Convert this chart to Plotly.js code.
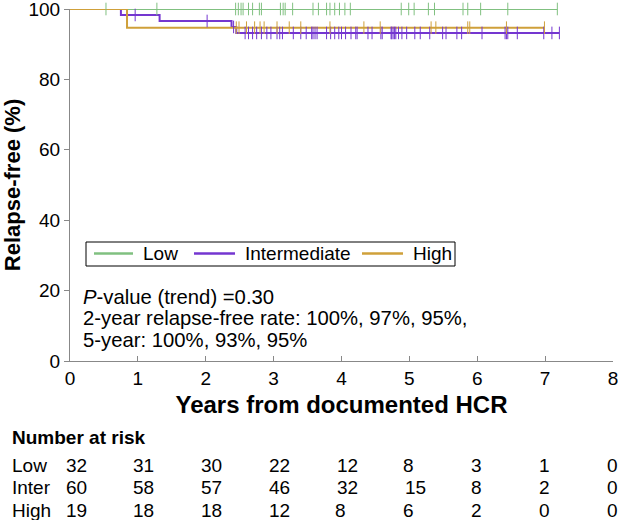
<!DOCTYPE html>
<html>
<head>
<meta charset="utf-8">
<script src="https://cdn.plot.ly/plotly-3.0.1.min.js"></script>
<style>
  html, body { margin: 0; padding: 0; background: #fff; }
  #chart { width: 618px; height: 520px; }
</style>
</head>
<body>
<div id="chart"></div>
<script>
// ---------------- DATA ----------------
const groupNames = ["Low", "Intermediate", "High"];
const riskLabels = ["Low", "Inter", "High"];

// Kaplan–Meier step curves: event times and survival (%) after each event
const lowEventTimes = [];
const lowEventSurv = [];
const lowLastTime = 7.18;
const lowCensor = [0.53, 1.28, 2.44, 2.48, 2.52, 2.55, 2.63, 2.69, 2.79, 2.82,
  3.10, 3.14, 3.17, 3.28, 3.58, 3.66, 3.78, 3.83, 3.90, 3.97,
  4.05, 4.13, 4.88, 4.99, 5.07, 5.28, 5.37, 5.79, 5.86, 6.05, 6.45, 7.18];

const interEventTimes = [0.75, 1.32, 2.38, 2.45];
const interEventSurv = [98.3, 96.6, 94.9, 93.2];
const interLastTime = 7.21;
const interCensor = [0.96, 2.02, 2.41, 2.58, 2.63, 2.69, 2.75, 2.82, 2.90, 2.96,
  3.05, 3.09, 3.13, 3.29, 3.40, 3.48, 3.56, 3.58, 3.61, 3.64, 3.78, 3.84, 3.90, 3.96,
  4.00, 4.06, 4.14, 4.21, 4.23, 4.39, 4.45, 4.58, 4.60, 4.73, 4.74, 4.76, 4.78, 4.80, 4.84, 4.89, 4.96,
  5.08, 5.16, 5.30, 5.49, 5.54, 5.70, 5.77,
  6.07, 6.41, 6.43, 6.45, 6.59, 6.98, 7.10, 7.21];

const highEventTimes = [0.84];
const highEventSurv = [94.7];
const highLastTime = 6.99;
const highCensor = [2.45, 2.49, 2.60, 2.72, 2.80, 2.86, 3.05, 3.23, 3.40, 3.83,
  4.33, 4.57, 5.32, 5.39, 5.86, 5.89, 6.43, 6.99];

// Number at risk table
const riskTimes = [0, 1, 2, 3, 4, 5, 6, 7, 8];
const riskLow = [32, 31, 30, 22, 12, 8, 3, 1, 0];
const riskInter = [60, 58, 57, 46, 32, 15, 8, 2, 0];
const riskHigh = [19, 18, 18, 12, 8, 6, 2, 0, 0];

const xTicks = [0, 1, 2, 3, 4, 5, 6, 7, 8];
const yTicks = [0, 20, 40, 60, 80, 100];

const annoLines = [
  "<i>P</i>-value (trend) =0.30",
  "2-year relapse-free rate: 100%, 97%, 95%,",
  "5-year: 100%, 93%, 95%"
];

// ---------------- STYLE ----------------
const colors = ["#80c080", "#7436d0", "#cfa03a"];
const FONT = "Liberation Sans, Arial, sans-serif";

// pixel helpers for layout (plot area: x 70..613, y 9..361)
const L = 70, R = 613, T = 9, B = 361;
const pxX = p => (p - L) / (R - L);
const pxY = p => (B - p) / (B - T);

function stepXY(times, surv, last) {
  const x = [0], y = [100];
  times.forEach((t, i) => { x.push(t); y.push(surv[i]); });
  x.push(last); y.push(y[y.length - 1]);
  return { x, y };
}
function survAt(times, surv, t) {
  let s = 100;
  for (let i = 0; i < times.length; i++) if (times[i] <= t) s = surv[i];
  return s;
}

const groups = [
  [lowEventTimes, lowEventSurv, lowLastTime, lowCensor],
  [interEventTimes, interEventSurv, interLastTime, interCensor],
  [highEventTimes, highEventSurv, highLastTime, highCensor]
];

const traces = [];
groups.forEach((g, i) => {
  const s = stepXY(g[0], g[1], g[2]);
  traces.push({
    type: "scatter", mode: "lines", name: groupNames[i], showlegend: false,
    x: s.x, y: s.y, line: { shape: "hv", color: colors[i], width: 2 },
    cliponaxis: false, hoverinfo: "skip"
  });
});
groups.forEach((g, i) => {
  traces.push({
    type: "scatter", mode: "markers", showlegend: false,
    x: g[3], y: g[3].map(t => survAt(g[0], g[1], t)),
    marker: { symbol: "line-ns", size: 9, color: colors[i], line: { color: colors[i], width: 1 } },
    cliponaxis: false, hoverinfo: "skip"
  });
});

const annotations = [];
const shapes = [];

// legend (box, line samples, labels)
const legBox = { x0: 86, x1: 455, y0: 242, y1: 266 };
const legLineX = [[94, 133], [194, 235], [362, 403]];
const legTextX = [141, 243, 411];
const legY = 253.5;
shapes.push({
  type: "rect", xref: "paper", yref: "paper",
  x0: pxX(legBox.x0), x1: pxX(legBox.x1), y0: pxY(legBox.y1), y1: pxY(legBox.y0),
  line: { color: "#000", width: 1 }, fillcolor: "#fff", layer: "above"
});
groupNames.forEach((name, i) => {
  shapes.push({
    type: "line", xref: "paper", yref: "paper",
    x0: pxX(legLineX[i][0]), x1: pxX(legLineX[i][1]), y0: pxY(legY), y1: pxY(legY),
    line: { color: colors[i], width: 2.5 }, layer: "above"
  });
  annotations.push({
    xref: "paper", yref: "paper", x: pxX(legTextX[i]), y: pxY(legY),
    xanchor: "left", yanchor: "middle", showarrow: false, text: name,
    font: { family: FONT, size: 19, color: "#000" }
  });
});

annoLines.forEach((txt, i) => {
  annotations.push({
    xref: "paper", yref: "paper", x: pxX(81), y: pxY([297, 318, 340][i]),
    xanchor: "left", yanchor: "middle", showarrow: false, text: txt,
    font: { family: FONT, size: 20.3, color: "#000" }
  });
});
annotations.push({
  xref: "paper", yref: "paper", x: pxX(10), y: pxY(437), xanchor: "left", yanchor: "middle",
  showarrow: false, text: "<b>Number at risk</b>", font: { family: FONT, size: 19, color: "#000" }
});
const riskRows = [riskLow, riskInter, riskHigh];
const rowY = [465, 487.5, 510];
riskRows.forEach((row, r) => {
  annotations.push({
    xref: "paper", yref: "paper", x: pxX(10), y: pxY(rowY[r]), xanchor: "left", yanchor: "middle",
    showarrow: false, text: riskLabels[r], font: { family: FONT, size: 19, color: "#000" }
  });
  row.forEach((v, k) => {
    const s = String(v);
    annotations.push({
      xref: "x", yref: "paper", x: riskTimes[k], y: pxY(rowY[r]), xanchor: "center", yanchor: "middle",
      xshift: s.length > 1 ? 6 : -1,
      showarrow: false, text: s, font: { family: FONT, size: 19, color: "#000" }
    });
  });
});

const layout = {
  width: 618, height: 520,
  margin: { l: L, r: 618 - R, t: T, b: 520 - B },
  paper_bgcolor: "#fff", plot_bgcolor: "#fff",
  font: { family: FONT, color: "#000", size: 19 },
  showlegend: false,
  xaxis: {
    range: [0, 8], tickvals: xTicks, ticktext: xTicks.map(String),
    showline: true, linecolor: "#888", linewidth: 1,
    ticks: "inside", ticklen: 5, tickcolor: "#888",
    showgrid: false, zeroline: false, ticklabeloverflow: "allow",
    tickfont: { family: FONT, size: 19, color: "#000" },
    title: { text: "<b>Years from documented HCR</b>", font: { family: FONT, size: 24, color: "#000" }, standoff: 8 }
  },
  yaxis: {
    range: [0, 100], tickvals: yTicks, ticktext: yTicks.map(String),
    showline: true, linecolor: "#888", linewidth: 1,
    ticks: "outside", ticklen: 5, tickcolor: "#888",
    showgrid: false, zeroline: false, ticklabeloverflow: "allow",
    tickfont: { family: FONT, size: 19, color: "#000" },
    title: { text: "<b>Relapse-free (%)</b>", font: { family: FONT, size: 22, color: "#000" }, standoff: 10 }
  },
  shapes: shapes,
  annotations: annotations
};

Plotly.newPlot("chart", traces, layout, { displayModeBar: false, staticPlot: true });
</script>
</body>
</html>
